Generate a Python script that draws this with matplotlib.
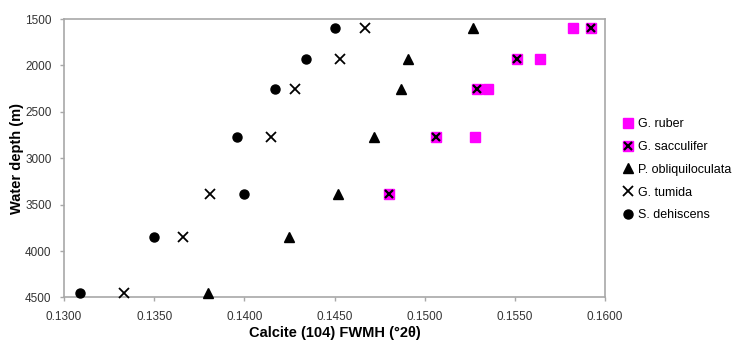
import matplotlib
matplotlib.use("Agg")
import matplotlib.pyplot as plt
import numpy as np
from matplotlib.legend_handler import HandlerTuple

plt.rcParams['font.family'] = ['Liberation Sans', 'DejaVu Sans']

depth = [1600, 1930, 2250, 2770, 3380, 3850, 4450]

g_ruber = [0.1582, 0.1564, 0.1535, 0.1528, np.nan, np.nan, np.nan]
g_sacculifer = [0.1592, 0.1551, 0.1529, 0.1506, 0.1480, np.nan, np.nan]
p_obliq = [0.1527, 0.1491, 0.1487, 0.1472, 0.1452, 0.1425, 0.1380]
g_tumida = [0.1467, 0.1453, 0.1428, 0.1415, 0.1381, 0.1366, 0.1333]
s_dehiscens = [0.1450, 0.1434, 0.1417, 0.1396, 0.1400, 0.1350, 0.1309]

names = ["G. ruber", "G. sacculifer", "P. obliquiloculata", "G. tumida", "S. dehiscens"]
xticks = [0.1300, 0.1350, 0.1400, 0.1450, 0.1500, 0.1550, 0.1600]
yticks = [1500, 2000, 2500, 3000, 3500, 4000, 4500]

fig = plt.figure(figsize=(7.42, 3.45), dpi=100)
ax = fig.add_axes([0.0863, 0.1377, 0.7291, 0.8072])

magenta = '#FF00FF'
kw = dict(ls='none', clip_on=False, zorder=3)
h1, = ax.plot(g_ruber, depth, 's', color=magenta, ms=6.5, **kw)
h2a, = ax.plot(g_sacculifer, depth, 's', color=magenta, ms=6.5, **kw)
h2b, = ax.plot(g_sacculifer, depth, 'x', color='black', ms=5.5, mew=1.6, **kw)
h3, = ax.plot(p_obliq, depth, '^', color='black', ms=7.5, **kw)
h4, = ax.plot(g_tumida, depth, 'x', color='black', ms=7.5, mew=1.3, **kw)
h5, = ax.plot(s_dehiscens, depth, 'o', color='black', ms=6.5, **kw)

ax.set_xlim(0.13, 0.16)
ax.set_ylim(4500, 1500)
ax.set_xticks(xticks)
ax.set_xticklabels([f"{v:.4f}" for v in xticks])
ax.set_yticks(yticks)
ax.set_yticklabels([str(v) for v in yticks])

for s in ax.spines.values():
    s.set_color('#a8a8a8')
    s.set_linewidth(1.2)
    s.set_zorder(1)
ax.tick_params(axis='both', colors='#a8a8a8', labelcolor='#333333', labelsize=8.5, length=3, width=1)
ax.tick_params(axis='y', pad=6)
ax.tick_params(axis='x', pad=7)

ax.set_xlabel("Calcite (104) FWMH (\u00b02\u03b8)", fontsize=10.5, fontweight='bold', labelpad=2)
ax.set_ylabel("Water depth (m)", fontsize=10.5, fontweight='bold')
ax.yaxis.set_label_coords(-0.074, 0.5)

fig.legend([h1, (h2a, h2b), h3, h4, h5], names,
           handler_map={tuple: HandlerTuple(ndivide=1, pad=0)},
           loc='upper left', bbox_to_anchor=(0.84, 0.657), frameon=False,
           fontsize=9, handlelength=0.8, handletextpad=0.4, labelspacing=0.86,
           borderpad=0, borderaxespad=0)

fig.savefig("out.png", dpi=100)
